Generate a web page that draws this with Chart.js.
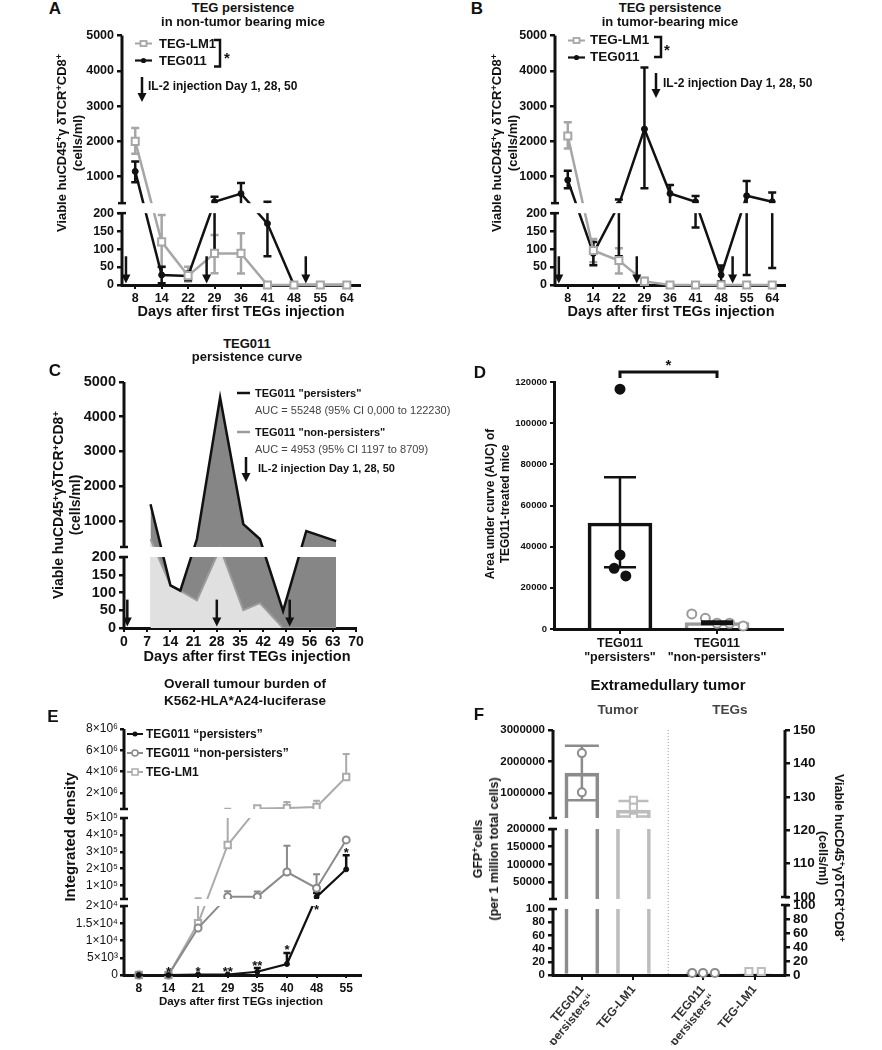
<!DOCTYPE html>
<html>
<head>
<meta charset="utf-8">
<script src="https://cdn.jsdelivr.net/npm/chart.js@4.4.1/dist/chart.umd.min.js"></script>
<style>
body { margin: 0; width: 882px; height: 1050px; position: relative; overflow: hidden; background: #fff;
       font-family: 'Liberation Sans', Arial, sans-serif; color: #111; }
canvas { position: absolute; }
svg { position: absolute; overflow: visible; }
.t { position: absolute; white-space: nowrap; font-weight: bold; line-height: 1; transform: translate(-50%, -50%); }
.l { transform: translateY(-50%); }
.rn { text-align: center; transform: translate(-50%, -50%) rotate(-90deg); }
.rp { text-align: center; transform: translate(-50%, -50%) rotate(90deg); }
.n { font-weight: normal; color: #444; }
sup { font-size: 70%; line-height: 0; vertical-align: 0.45em; }
</style>
</head>
<body>
<script>
const FONT = "'Liberation Sans', Arial, sans-serif";
const INK = '#111';
const GRAY = '#a6a6a6';

// --- data: A, non-tumor bearing mice ---
const daysA = ['8', '14', '22', '29', '36', '41', '48', '55', '64'];
const lm1A = [2000, 120, 26, 88, 88, 0, 0, 0, 0];
const lm1A_hi = [2380, 195, 51, 139, 144, 0, 0, 0, 0];
const lm1A_lo = [1650, 50, 10, 33, 32, 0, 0, 0, 0];
const tegA = [1150, 28, 25, 290, 520, 171, 0, 0, 0];
const tegA_hi = [1430, 51, 37, 430, 820, 290, 0, 0, 0];
const tegA_lo = [840, 5, 13, 90, 220, 80, 0, 0, 0];

// --- data: B, tumor-bearing mice ---
const daysB = ['8', '14', '22', '29', '36', '41', '48', '55', '64'];
const lm1B = [2155, 96, 68, 10, 0, 0, 0, 0, 0];
const lm1B_hi = [2540, 128, 102, 20, 0, 0, 0, 0, 0];
const lm1B_lo = [1800, 63, 32, 2, 0, 0, 0, 0, 0];
const tegB = [905, 88, 243, 2350, 525, 290, 28, 460, 290];
const tegB_hi = [1170, 120, 355, 4090, 765, 450, 54, 880, 555];
const tegB_lo = [670, 55, 80, 670, 240, 160, 10, 28, 47];

const il2Idx = [-0.35, 2.7, 6.45];   // IL-2 days 1, 28, 50 on the A/B axis
const cellTicks = [0, 50, 100, 150, 200, 1000, 2000, 3000, 4000, 5000];

// --- data: C, persistence curve ---
const daysPersC = [8, 14, 17, 22, 29, 36, 41, 48, 55, 64];
const persC = [1480, 120, 105, 480, 4550, 910, 480, 48, 710, 420];
const daysNonC = [8, 14, 22, 29, 36, 41, 48, 55, 64];
const nonC = [480, 121, 78, 245, 50, 70, 0, 0, 0];
const il2DaysC = [1, 28, 50];
const dayTicksC = [0, 7, 14, 21, 28, 35, 42, 49, 56, 63, 70];

// --- data: D, AUC ---
const aucLabels = [['TEG011', '"persisters"'], ['TEG011', '"non-persisters"']];
const aucMeans = [51500, 3060];
const aucLo = [30000, 2400];
const aucHi = [73700, 3700];
const aucPers = [116500, 36000, 29500, 25800];
const aucNon = [7300, 5200, 2800, 2800, 1500];
const aucTicks = [0, 20000, 40000, 60000, 80000, 100000, 120000];

// --- data: E, tumour burden ---
const daysE = ['8', '14', '21', '29', '35', '40', '48', '55'];
const persE = [0, 0, 150, 150, 950, 3200, 32000, 196000];
const persE_hi = [0, 0, 0, 0, 2000, 6400, 56000, 280000];
const nonE = [0, 0, 13600, 34000, 34000, 180000, 84000, 370000];
const nonE_hi = [0, 0, 0, 66000, 65000, 335000, 166000, 0];
const lm1E = [0, 0, 15000, 340000, 550000, 600000, 690000, 3500000];
const lm1E_hi = [0, 0, 25000, 520000, 0, 1160000, 1280000, 5660000];
const starsE = ['', '*', '*', '**', '**', '*', '*', '*'];
const starBelowE = [0, 0, 0, 0, 0, 0, 1, 0];
const densTicks = [0, 5000, 10000, 15000, 20000, 100000, 200000, 300000, 400000, 500000, 2e6, 4e6, 6e6, 8e6];

// --- data: F, extramedullary tumor ---
const fLabels = [['TEG011', '\u201cnon-persisters\u201c'], 'TEG-LM1', ['TEG011', '\u201cnon-persisters\u201c'], 'TEG-LM1'];
const tumorMeans = [1640000, 470000];
const tumorLo = [780000, 270000];
const tumorHi = [2500000, 760000];
const tumorNon = [2270000, 1030000];
const tumorLM1 = [780000, 560000, 240000];
const tegMeansF = [3, 2];
const tegNonF = [3, 3, 3];
const tegLM1F = [5, 5];
const gfpTicks = [0, 20, 40, 60, 80, 100, 50000, 100000, 150000, 200000, 1000000, 2000000, 3000000];
const tegTicksF = [0, 20, 40, 60, 80, 100, 100.0001, 110, 120, 130, 140, 150];

// layout helpers (positions, not data)
const xPosF = [0, 1, 2.35, 3.35];
const jitPers = [0, 0, -0.06, 0.06];
const jitNon = [-0.26, -0.12, 0, 0.13, 0.27];
const jitTegNon = [-0.21, 0, 0.23];
const jitTegLM1 = [-0.11, 0.13];

// --- broken y axis ---
const segsById = {};
function valToH(list, v) {
  let i = 0;
  while (i < list.length - 1 && v > list[i].v1) i++;
  const g = list[i];
  if (i > 0 && v < g.v0) {
    const p = list[i - 1];
    return p.h1 + (v - p.v1) / (g.v0 - p.v1) * (g.h0 - p.h1);
  }
  return g.h0 + (v - g.v0) / (g.v1 - g.v0) * (g.h1 - g.h0);
}
class BrokenScale extends Chart.LinearScale {
  getPixelForValue(v) {
    if (v === null || v === undefined || isNaN(v)) return NaN;
    const s = segsById[this.chart.canvas.id + '.' + this.id];
    return this.getPixelForDecimal(valToH(s.list, v) / s.H);
  }
}
BrokenScale.id = 'broken';
Chart.register(BrokenScale);

function makeChart(id, box, area, ax, cfg) {
  const cv = document.createElement('canvas');
  cv.id = id;
  cv.width = box[2]; cv.height = box[3];
  cv.style.left = box[0] + 'px'; cv.style.top = box[1] + 'px';
  document.body.appendChild(cv);
  cfg.options = Object.assign({
    responsive: false, animation: false, events: [],
    layout: { autoPadding: false, padding: {
      left: area[0] - box[0] - ax.yW,
      right: box[0] + box[2] - area[2] - (ax.rW || 0),
      top: area[1] - box[1],
      bottom: box[1] + box[3] - area[3] - ax.xH } },
    plugins: { legend: { display: false }, tooltip: { enabled: false } }
  }, cfg.options);
  return new Chart(cv, cfg);
}

function yScale(o) {
  return {
    type: o.broken ? 'broken' : 'linear', position: o.pos || 'left', min: o.min, max: o.max,
    afterBuildTicks: s => { s.ticks = o.ticks.map(v => ({ value: v })); },
    afterFit: s => { s.width = o.w; },
    ticks: { callback: o.fmt || (v => String(Math.round(v))), autoSkip: false, padding: o.pad ?? 3, color: INK,
             font: { family: FONT, size: o.fs, weight: o.fw || 'bold' } },
    grid: { drawOnChartArea: false, tickLength: o.tl ?? 5, color: INK, lineWidth: o.lw ?? 2.5 },
    border: { display: !o.broken, color: INK, width: 3 }
  };
}

function xScale(cats, fs, o = {}) {
  return {
    type: 'linear', min: o.min ?? -0.5, max: o.max ?? cats.length - 0.5, offset: false,
    afterBuildTicks: s => { s.ticks = cats.map((_, i) => ({ value: o.pos ? o.pos[i] : i })); },
    afterFit: s => { s.height = o.h || 22; },
    ticks: { callback: (v, i) => cats[i], autoSkip: false, padding: o.pad ?? 2, color: o.color || INK,
             maxRotation: o.rot || 0, minRotation: o.rot || 0,
             font: { family: FONT, size: fs, weight: 'bold', lineHeight: o.lh || 1.2 } },
    grid: { drawOnChartArea: false, offset: false, tickLength: o.tl ?? 4, color: INK, lineWidth: 2 },
    border: { display: true, color: INK, width: 3 }
  };
}

const idx = arr => arr.map((_, i) => i);
const pts = (xs, ys) => ys.map((y, i) => ({ x: xs[i], y }));

function lineSet(data, color, style, r, open, order, lw = 2.5) {
  return { data, borderColor: color, borderWidth: lw, pointStyle: style, pointRadius: r,
           pointBorderWidth: open ? 2 : 1, pointBorderColor: color,
           pointBackgroundColor: open ? '#fff' : color, tension: 0, order, clip: false };
}

function dots(data, color, style, r, open, order, yAxisID = 'y') {
  return { type: 'line', showLine: false, data, yAxisID, pointStyle: style, pointRadius: r,
           pointBorderWidth: 2, pointBorderColor: color, pointBackgroundColor: open ? '#fff' : color,
           order, clip: false };
}

function errBars(c, xs, vals, lo, hi, color, lw, cap, yId = 'y') {
  const ctx = c.ctx, X = c.scales.x, Y = c.scales[yId];
  ctx.save();
  ctx.strokeStyle = color; ctx.lineWidth = lw;
  xs.forEach((xv, i) => {
    const top = hi[i], bot = lo ? lo[i] : vals[i];
    if (top <= vals[i] && bot >= vals[i]) return;
    const px = X.getPixelForValue(xv), pt = Y.getPixelForValue(top), pb = Y.getPixelForValue(bot);
    ctx.beginPath();
    ctx.moveTo(px, pb); ctx.lineTo(px, pt);
    if (top > vals[i]) { ctx.moveTo(px - cap, pt); ctx.lineTo(px + cap, pt); }
    if (lo && bot < vals[i]) { ctx.moveTo(px - cap, pb); ctx.lineTo(px + cap, pb); }
    ctx.stroke();
  });
  ctx.restore();
}

function arrow(ctx, x, y0, y1) {
  ctx.save();
  ctx.strokeStyle = INK; ctx.fillStyle = INK; ctx.lineWidth = 2.5;
  ctx.beginPath(); ctx.moveTo(x, y0); ctx.lineTo(x, y1 - 8); ctx.stroke();
  ctx.beginPath(); ctx.moveTo(x - 4.5, y1 - 9); ctx.lineTo(x + 4.5, y1 - 9); ctx.lineTo(x, y1); ctx.closePath(); ctx.fill();
  ctx.restore();
}
function il2Arrows(c, xs) {
  const X = c.scales.x, Y = c.scales.y;
  xs.forEach(v => arrow(c.ctx, X.getPixelForValue(v), Y.getPixelForValue(80), Y.getPixelForValue(4)));
}

function maskBreaks(c, id, x0) {
  const s = segsById[c.canvas.id + '.' + id], a = c.chartArea, ctx = c.ctx;
  const k = (a.bottom - a.top) / s.H;
  const left = x0 ?? a.left + 1.5;
  ctx.save(); ctx.fillStyle = '#fff';
  for (let i = 1; i < s.list.length; i++) {
    const yt = a.bottom - s.list[i].h0 * k, yb = a.bottom - s.list[i - 1].h1 * k;
    ctx.fillRect(left, yt, a.right - left, yb - yt);
  }
  ctx.restore();
}
function drawBrokenAxis(c, id, side) {
  const s = segsById[c.canvas.id + '.' + id], a = c.chartArea, ctx = c.ctx;
  const k = (a.bottom - a.top) / s.H;
  const x = side === 'right' ? a.right : a.left;
  ctx.save(); ctx.strokeStyle = INK;
  s.list.forEach((g, i) => {
    const y0 = a.bottom - g.h0 * k + (i === 0 ? 1.5 : 0), y1 = a.bottom - g.h1 * k;
    ctx.lineWidth = 3;
    ctx.beginPath(); ctx.moveTo(x, y0); ctx.lineTo(x, y1); ctx.stroke();
    ctx.lineWidth = 2.5;
    ctx.beginPath();
    if (i > 0) { ctx.moveTo(x - 4, y0); ctx.lineTo(x + 4, y0); }
    if (i < s.list.length - 1) { ctx.moveTo(x - 4, y1); ctx.lineTo(x + 4, y1); }
    ctx.stroke();
  });
  ctx.restore();
}

function deco(o) {
  return {
    id: 'deco',
    beforeDatasetsDraw(c) { (o.under || []).forEach(f => f(c)); },
    afterDatasetsDraw(c) {
      (o.broken || []).forEach(b => maskBreaks(c, b[0], b[2] ? b[2](c) : undefined));
      (o.mid || []).forEach(f => f(c));
      (o.broken || []).forEach(b => drawBrokenAxis(c, b[0], b[1]));
      (o.over || []).forEach(f => f(c));
    }
  };
}

// --- A ---
const cellSegs = { H: 250, list: [{ v0: 0, v1: 200, h0: 0, h1: 72 }, { v0: 250, v1: 5000, h0: 82, h1: 250 }] };
segsById['chartA.y'] = cellSegs;
makeChart('chartA', [40, 25, 345, 285], [122, 35, 360, 285], { yW: 55, xH: 22 }, {
  type: 'line',
  data: { datasets: [
    lineSet(pts(idx(daysA), lm1A), GRAY, 'rect', 5, true, 1),
    lineSet(pts(idx(daysA), tegA), INK, 'circle', 3, false, 2)
  ] },
  options: { scales: {
    x: xScale(daysA, 12.5),
    y: yScale({ broken: true, min: 0, max: 5000, ticks: cellTicks, w: 55, fs: 12.5 })
  } },
  plugins: [deco({
    broken: [['y', 'left']],
    under: [c => {
      errBars(c, idx(daysA), lm1A, lm1A_lo, lm1A_hi, GRAY, 2.5, 4);
      errBars(c, idx(daysA), tegA, tegA_lo, tegA_hi, INK, 2.5, 4);
    }],
    over: [c => il2Arrows(c, il2Idx)]
  })]
});

// --- B ---
segsById['chartB.y'] = cellSegs;
makeChart('chartB', [470, 25, 345, 285], [555, 35, 785, 285], { yW: 55, xH: 22 }, {
  type: 'line',
  data: { datasets: [
    lineSet(pts(idx(daysB), lm1B), GRAY, 'rect', 5, true, 1),
    lineSet(pts(idx(daysB), tegB), INK, 'circle', 3, false, 2)
  ] },
  options: { scales: {
    x: xScale(daysB, 12.5),
    y: yScale({ broken: true, min: 0, max: 5000, ticks: cellTicks, w: 55, fs: 12.5 })
  } },
  plugins: [deco({
    broken: [['y', 'left']],
    under: [c => {
      errBars(c, idx(daysB), lm1B, lm1B_lo, lm1B_hi, GRAY, 2.5, 4);
      errBars(c, idx(daysB), tegB, tegB_lo, tegB_hi, INK, 2.5, 4);
    }],
    over: [c => il2Arrows(c, il2Idx)]
  })]
});

// --- C ---
segsById['chartC.y'] = { H: 246, list: [{ v0: 0, v1: 200, h0: 0, h1: 71 }, { v0: 250, v1: 5000, h0: 81, h1: 246 }] };
makeChart('chartC', [40, 370, 340, 300], [124, 382, 356, 628], { yW: 55, xH: 22 }, {
  type: 'line',
  data: { datasets: [
    { data: pts(daysPersC, persC), fill: 'origin', backgroundColor: '#868686', borderWidth: 0, pointRadius: 0, tension: 0, order: 4 },
    { data: pts(daysNonC, nonC), fill: 'origin', backgroundColor: '#e0e0e0', borderWidth: 0, pointRadius: 0, tension: 0, order: 3 },
    { data: pts(daysNonC, nonC), fill: false, borderColor: '#9c9c9c', borderWidth: 2, pointRadius: 0, tension: 0, order: 2 },
    { data: pts(daysPersC, persC), fill: false, borderColor: INK, borderWidth: 2.5, pointRadius: 0, tension: 0, order: 1 }
  ] },
  options: { scales: {
    x: xScale(dayTicksC.map(String), 14, { min: 0, max: 70, pos: dayTicksC }),
    y: yScale({ broken: true, min: 0, max: 5000, ticks: cellTicks, w: 55, fs: 14.5 })
  } },
  plugins: [deco({ broken: [['y', 'left']], over: [c => il2Arrows(c, il2DaysC)] })]
});

// --- D ---
makeChart('chartD', [470, 350, 400, 330], [554, 382, 783, 629], { yW: 50, xH: 45 }, {
  type: 'line',
  data: { datasets: [
    { type: 'bar', data: pts([0, 1], aucMeans), backgroundColor: 'rgba(255,255,255,0)', borderColor: [INK, '#9a9a9a'],
      borderWidth: 3, borderSkipped: 'start', barThickness: 64, grouped: false, order: 3 },
    dots(pts(jitPers.map(j => j), aucPers), INK, 'circle', 4.5, false, 1),
    dots(pts(jitNon.map(j => 1 + j), aucNon), '#9a9a9a', 'circle', 4.5, true, 2)
  ] },
  options: { scales: {
    x: xScale(aucLabels, 12.5, { min: -0.68, max: 1.68, h: 45, tl: 5, pad: 3, lh: 1.1 }),
    y: yScale({ min: 0, max: 120000, ticks: aucTicks, w: 50, fs: 9.5, tl: 4, lw: 2 })
  } },
  plugins: [deco({
    mid: [c => {
      errBars(c, [0, 1], aucMeans, aucLo, aucHi, INK, 2.5, 16);
    }],
    over: [c => {
      const X = c.scales.x, a = c.chartArea, ctx = c.ctx;
      const x0 = X.getPixelForValue(0), x1 = X.getPixelForValue(1), y = a.top - 10;
      ctx.save(); ctx.strokeStyle = INK; ctx.lineWidth = 3;
      ctx.beginPath(); ctx.moveTo(x0, y + 6); ctx.lineTo(x0, y); ctx.lineTo(x1, y); ctx.lineTo(x1, y + 6); ctx.stroke();
      ctx.fillStyle = INK; ctx.font = `bold 15px ${FONT}`; ctx.textAlign = 'center';
      ctx.fillText('*', (x0 + x1) / 2, y - 2);
      ctx.restore();
    }]
  })]
});

// --- E ---
segsById['chartE.y'] = { H: 246, list: [{ v0: 0, v1: 2e4, h0: 0, h1: 69 }, { v0: 2e4, v1: 5e5, h0: 76, h1: 157 }, { v0: 5e5, v1: 8e6, h0: 166, h1: 246 }] };
const SUP = { 3: '\u00b3', 4: '\u2074', 5: '\u2075', 6: '\u2076' };
function sci(v) {
  if (!v) return '0';
  const e = Math.floor(Math.log10(v) + 1e-9);
  return +(v / 10 ** e).toFixed(2) + '\u00d710' + SUP[e];
}
makeChart('chartE', [40, 715, 345, 300], [124, 729, 361, 975], { yW: 60, xH: 22 }, {
  type: 'line',
  data: { datasets: [
    lineSet(pts(idx(daysE), lm1E), '#ababab', 'rect', 4.5, true, 3, 2),
    lineSet(pts(idx(daysE), nonE), '#8a8a8a', 'circle', 3.5, true, 2, 2),
    lineSet(pts(idx(daysE), persE), INK, 'circle', 2.5, false, 1, 2.2)
  ] },
  options: { scales: {
    x: xScale(daysE, 12, { tl: 3, pad: 3 }),
    y: yScale({ broken: true, min: 0, max: 8e6, ticks: densTicks, w: 60, fs: 12, fw: 'normal', fmt: sci, tl: 4, pad: 2 })
  } },
  plugins: [deco({
    broken: [['y', 'left']],
    under: [c => {
      errBars(c, idx(daysE), lm1E, null, lm1E_hi, '#ababab', 2, 3.5);
      errBars(c, idx(daysE), nonE, null, nonE_hi, '#8a8a8a', 2, 3.5);
      errBars(c, idx(daysE), persE, null, persE_hi, INK, 2.5, 3.5);
    }],
    over: [c => {
      const X = c.scales.x, Y = c.scales.y, ctx = c.ctx;
      ctx.save(); ctx.fillStyle = INK; ctx.font = `bold 13px ${FONT}`; ctx.textAlign = 'center';
      starsE.forEach((s, i) => {
        if (!s) return;
        const yc = starBelowE[i] ? Y.getPixelForValue(persE[i]) + 10
                                 : Y.getPixelForValue(Math.max(persE[i], persE_hi[i])) - 6;
        ctx.fillText(s, X.getPixelForValue(i), yc + 7.4);
      });
      ctx.restore();
    }]
  })]
});

// --- F ---
segsById['chartF.y'] = { H: 245, list: [{ v0: 0, v1: 100, h0: 0, h1: 66 }, { v0: 2000, v1: 200000, h0: 76, h1: 146 }, { v0: 220000, v1: 3000000, h0: 157, h1: 245 }] };
segsById['chartF.y2'] = { H: 245, list: [{ v0: 0, v1: 100, h0: 0, h1: 70 }, { v0: 100, v1: 150, h0: 78, h1: 245 }] };
const F1 = '#8c8c8c', F2 = '#bdbdbd';
const sepF = (xPosF[1] + xPosF[2]) / 2;
makeChart('chartF', [470, 700, 412, 350], [553, 730, 785, 975], { yW: 75, rW: 45, xH: 70 }, {
  type: 'line',
  data: { datasets: [
    { type: 'bar', data: pts([xPosF[0], xPosF[1]], tumorMeans), yAxisID: 'y', backgroundColor: 'rgba(255,255,255,0)',
      borderColor: [F1, F2], borderWidth: 3, borderSkipped: 'start', barThickness: 34, grouped: false, order: 5 },
    { type: 'bar', data: pts([xPosF[2], xPosF[3]], tegMeansF), yAxisID: 'y2', backgroundColor: 'rgba(255,255,255,0)',
      borderColor: [F1, F2], borderWidth: 3, borderSkipped: 'start', barThickness: 34, grouped: false, order: 5 },
    dots(pts(tumorNon.map(() => xPosF[0]), tumorNon), F1, 'circle', 4, true, 1, 'y'),
    dots(pts(tumorLM1.map(() => xPosF[1]), tumorLM1), F2, 'rect', 5, true, 1, 'y'),
    dots(pts(jitTegNon.map(j => xPosF[2] + j), tegNonF), F1, 'circle', 4, true, 1, 'y2'),
    dots(pts(jitTegLM1.map(j => xPosF[3] + j), tegLM1F), F2, 'rect', 5, true, 1, 'y2')
  ] },
  options: { scales: {
    x: xScale(fLabels, 12, { min: -0.56, max: 3.94, pos: xPosF, h: 70, rot: 50, tl: 5, pad: 3, color: '#333', lh: 1.1 }),
    y: yScale({ broken: true, min: 0, max: 3000000, ticks: gfpTicks, w: 75, fs: 11.5, tl: 5 }),
    y2: yScale({ broken: true, pos: 'right', min: 0, max: 150, ticks: tegTicksF, w: 45, fs: 13.5, tl: 5 })
  } },
  plugins: [deco({
    broken: [['y', 'left'], ['y2', 'right', c => c.scales.x.getPixelForValue(sepF)]],
    under: [c => {
      errBars(c, [xPosF[0]], [tumorMeans[0]], [tumorLo[0]], [tumorHi[0]], F1, 2.5, 17);
      errBars(c, [xPosF[1]], [tumorMeans[1]], [tumorLo[1]], [tumorHi[1]], F2, 2.5, 15);
    }],
    mid: [c => {
      const x = c.scales.x.getPixelForValue(sepF), a = c.chartArea, ctx = c.ctx;
      ctx.save(); ctx.strokeStyle = '#999'; ctx.lineWidth = 1; ctx.setLineDash([1, 2]);
      ctx.beginPath(); ctx.moveTo(x, a.top); ctx.lineTo(x, a.bottom); ctx.stroke();
      ctx.restore();
    }]
  })]
});
</script>

<!-- panel letters -->
<div class="t" style="left:55px;top:8px;font-size:17px">A</div>
<div class="t" style="left:477px;top:8px;font-size:17px">B</div>
<div class="t" style="left:55px;top:370px;font-size:17px">C</div>
<div class="t" style="left:480px;top:372px;font-size:17px">D</div>
<div class="t" style="left:53px;top:716px;font-size:17px">E</div>
<div class="t" style="left:479px;top:714px;font-size:17px">F</div>

<!-- A -->
<div class="t" style="left:243px;top:6.5px;font-size:13px">TEG persistence</div>
<div class="t" style="left:243px;top:20.5px;font-size:13px">in non-tumor bearing mice</div>
<svg style="left:135px;top:37.5px" width="17" height="11"><line x1="0" y1="5.5" x2="17" y2="5.5" stroke="#a6a6a6" stroke-width="2"/><rect x="5.5" y="3" width="6" height="5" fill="#fff" stroke="#a6a6a6" stroke-width="1.8"/></svg>
<svg style="left:135px;top:54.5px" width="17" height="11"><line x1="0" y1="5.5" x2="17" y2="5.5" stroke="#111" stroke-width="2.2"/><circle cx="8.5" cy="5.5" r="2.6" fill="#111"/></svg>
<div class="t l" style="left:159px;top:43px;font-size:13px">TEG-LM1</div>
<div class="t l" style="left:159px;top:60px;font-size:13px">TEG011</div>
<svg style="left:212px;top:38px" width="12" height="30"><path d="M2 2H8V28.5H2" fill="none" stroke="#111" stroke-width="2.5"/></svg>
<div class="t l" style="left:224px;top:57px;font-size:15px">*</div>
<svg style="left:137px;top:76px" width="10" height="27"><line x1="5" y1="1" x2="5" y2="18" stroke="#111" stroke-width="2.5"/><polygon points="0.5,17 9.5,17 5,26" fill="#111"/></svg>
<div class="t l" style="left:148px;top:86px;font-size:12px">IL-2 injection Day 1, 28, 50</div>
<div class="t" style="left:241px;top:311px;font-size:14.5px">Days after first TEGs injection</div>
<div class="t rn" style="left:70px;top:143px;font-size:13px;line-height:16px">Viable huCD45<sup>+</sup>γ δTCR<sup>+</sup>CD8<sup>+</sup><br>(cells/ml)</div>

<!-- B -->
<div class="t" style="left:670px;top:6.5px;font-size:13px">TEG persistence</div>
<div class="t" style="left:670px;top:20.5px;font-size:13px">in tumor-bearing mice</div>
<svg style="left:568px;top:34.5px" width="17" height="11"><line x1="0" y1="5.5" x2="17" y2="5.5" stroke="#a6a6a6" stroke-width="2"/><rect x="5.5" y="3" width="6" height="5" fill="#fff" stroke="#a6a6a6" stroke-width="1.8"/></svg>
<svg style="left:568px;top:51.5px" width="17" height="11"><line x1="0" y1="5.5" x2="17" y2="5.5" stroke="#111" stroke-width="2.2"/><circle cx="8.5" cy="5.5" r="2.6" fill="#111"/></svg>
<div class="t l" style="left:590px;top:40px;font-size:13.5px">TEG-LM1</div>
<div class="t l" style="left:590px;top:57px;font-size:13.5px">TEG011</div>
<svg style="left:652px;top:35px" width="12" height="24"><path d="M2 2H9V22H2" fill="none" stroke="#111" stroke-width="2.5"/></svg>
<div class="t l" style="left:664px;top:49px;font-size:15px">*</div>
<svg style="left:651px;top:72px" width="10" height="27"><line x1="5" y1="1" x2="5" y2="18" stroke="#111" stroke-width="2.5"/><polygon points="0.5,17 9.5,17 5,26" fill="#111"/></svg>
<div class="t l" style="left:663px;top:83px;font-size:12px">IL-2 injection Day 1, 28, 50</div>
<div class="t" style="left:671px;top:311px;font-size:14.5px">Days after first TEGs injection</div>
<div class="t rn" style="left:505px;top:143px;font-size:13px;line-height:16px">Viable huCD45<sup>+</sup>γ δTCR<sup>+</sup>CD8<sup>+</sup><br>(cells/ml)</div>

<!-- C -->
<div class="t" style="left:247px;top:343px;font-size:13px">TEG011</div>
<div class="t" style="left:247px;top:356px;font-size:13px">persistence curve</div>
<svg style="left:237px;top:388px" width="13" height="10"><line x1="0" y1="5" x2="13" y2="5" stroke="#111" stroke-width="2.5"/></svg>
<div class="t l" style="left:255px;top:393px;font-size:11px">TEG011 "persisters"</div>
<div class="t l n" style="left:255px;top:410px;font-size:11px">AUC = 55248 (95% CI 0,000 to 122230)</div>
<svg style="left:237px;top:427px" width="13" height="10"><line x1="0" y1="5" x2="13" y2="5" stroke="#9c9c9c" stroke-width="2.5"/></svg>
<div class="t l" style="left:255px;top:432px;font-size:11px">TEG011 "non-persisters"</div>
<div class="t l n" style="left:255px;top:449px;font-size:11px">AUC = 4953 (95% CI 1197 to 8709)</div>
<svg style="left:241px;top:456px" width="10" height="27"><line x1="5" y1="1" x2="5" y2="18" stroke="#111" stroke-width="2.5"/><polygon points="0.5,17 9.5,17 5,26" fill="#111"/></svg>
<div class="t l" style="left:258px;top:468px;font-size:11px">IL-2 injection Day 1, 28, 50</div>
<div class="t" style="left:247px;top:656px;font-size:14.5px">Days after first TEGs injection</div>
<div class="t rn" style="left:66.5px;top:505px;font-size:14px;line-height:17px">Viable huCD45<sup>+</sup>γδTCR<sup>+</sup>CD8<sup>+</sup><br>(cells/ml)</div>

<!-- D -->
<div class="t rn" style="left:497.5px;top:504px;font-size:12px;line-height:15px">Area under curve (AUC) of<br>TEG011-treated mice</div>

<!-- E -->
<div class="t" style="left:245px;top:684px;font-size:13.5px">Overall tumour burden of</div>
<div class="t" style="left:245px;top:701px;font-size:13.5px">K562-HLA*A24-luciferase</div>
<svg style="left:127px;top:729px" width="16" height="10"><line x1="0" y1="5" x2="16" y2="5" stroke="#111" stroke-width="2"/><circle cx="8" cy="5" r="2.5" fill="#111"/></svg>
<svg style="left:127px;top:748px" width="16" height="10"><line x1="0" y1="5" x2="16" y2="5" stroke="#8a8a8a" stroke-width="2"/><circle cx="8" cy="5" r="3" fill="#fff" stroke="#8a8a8a" stroke-width="1.5"/></svg>
<svg style="left:127px;top:767px" width="16" height="10"><line x1="0" y1="5" x2="16" y2="5" stroke="#ababab" stroke-width="2"/><rect x="5" y="2" width="6" height="6" fill="#fff" stroke="#ababab" stroke-width="1.5"/></svg>
<div class="t l" style="left:146px;top:734px;font-size:12px">TEG011 “persisters”</div>
<div class="t l" style="left:146px;top:753px;font-size:12px">TEG011 “non-persisters”</div>
<div class="t l" style="left:146px;top:772px;font-size:12px">TEG-LM1</div>
<div class="t" style="left:241px;top:1002px;font-size:11.5px">Days after first TEGs injection</div>
<div class="t rn" style="left:69px;top:837px;font-size:15px">Integrated density</div>

<!-- F -->
<div class="t" style="left:668px;top:684px;font-size:15px">Extramedullary tumor</div>
<div class="t" style="left:618px;top:710px;font-size:13.5px;color:#444">Tumor</div>
<div class="t" style="left:730px;top:710px;font-size:13.5px;color:#444">TEGs</div>
<div class="t rn" style="left:486px;top:849px;font-size:12.5px;line-height:16px">GFP<sup>+</sup>cells<br>(per 1 million total cells)</div>
<div class="t rp" style="left:831px;top:858px;font-size:12.5px;line-height:16px">Viable huCD45<sup>+</sup>γδTCR<sup>+</sup>CD8<sup>+</sup><br>(cells/ml)</div>
</body>
</html>
